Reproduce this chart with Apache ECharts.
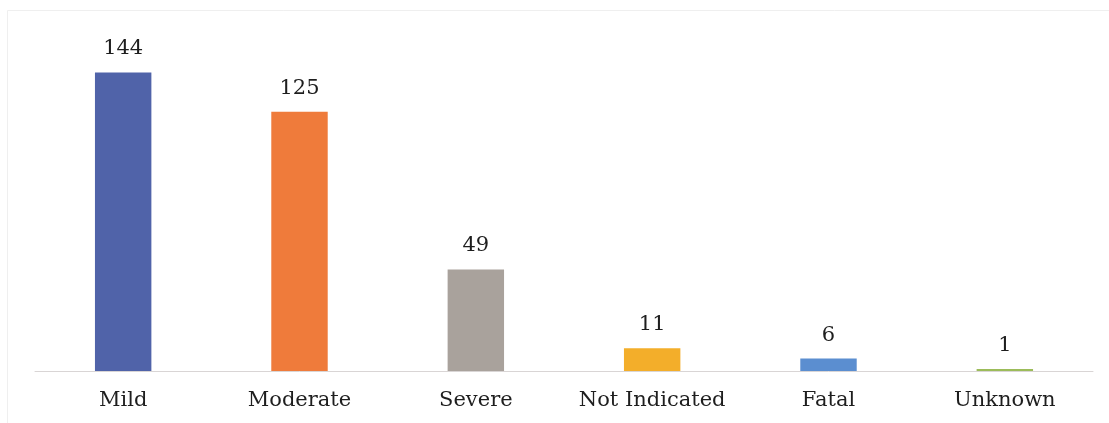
<!DOCTYPE html>
<html>
<head>
<meta charset="utf-8">
<script src="https://cdn.jsdelivr.net/npm/echarts@6/dist/echarts.min.js"></script>
<style>
  html, body { margin: 0; padding: 0; background: #fff; }
  #chart { width: 1109px; height: 423px; }
</style>
</head>
<body>
<div id="chart"></div>
<script>
// Reported outcome severity counts
const categories = ['Mild', 'Moderate', 'Severe', 'Not Indicated', 'Fatal', 'Unknown'];
const counts = [144, 125, 49, 11, 6, 1];
const barColors = ['#5063a9', '#ef7b3b', '#a9a29c', '#f3ae2a', '#5b8ed0', '#9cbc5a'];

const chart = echarts.init(document.getElementById('chart'));
const font = '"DejaVu Serif", "Liberation Serif", serif';

chart.setOption({
  backgroundColor: '#ffffff',
  animation: false,
  graphic: [{
    type: 'rect',
    shape: { x: 7.5, y: 10.5, width: 1130, height: 440 },
    style: { fill: 'none', stroke: '#efefef', lineWidth: 1 },
    silent: true
  }],
  grid: { left: 35, right: 16, top: 60, bottom: 52 },
  xAxis: {
    type: 'category',
    data: categories,
    axisLine: { show: true, lineStyle: { color: '#d9d5d5', width: 1 } },
    axisTick: { show: false },
    axisLabel: { color: '#1e1e1e', fontFamily: font, fontSize: 21, margin: 19, interval: 0 }
  },
  yAxis: {
    type: 'value',
    min: 0,
    max: 150,
    show: false,
    splitLine: { show: false }
  },
  series: [{
    type: 'bar',
    data: counts.map((v, i) => ({ value: v, itemStyle: { color: barColors[i] } })),
    barWidth: '32%',
    label: {
      show: true,
      position: 'top',
      distance: 13,
      color: '#1e1e1e',
      fontFamily: font,
      fontSize: 21
    }
  }]
});
</script>
</body>
</html>
